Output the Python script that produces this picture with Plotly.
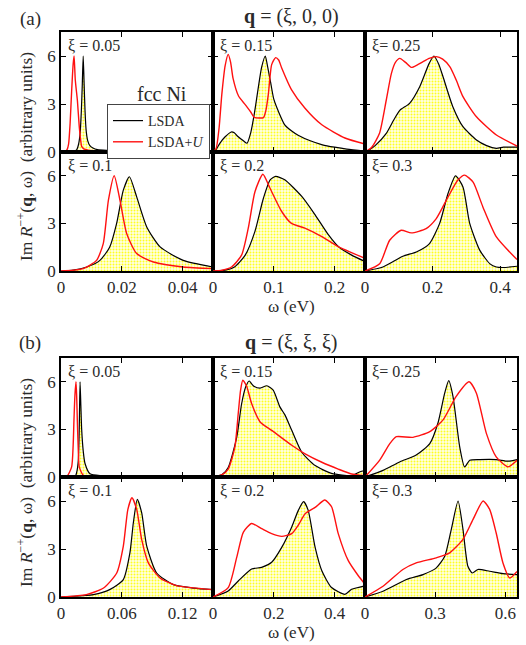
import plotly.graph_objects as go

# ---------------- data: (a) q = (xi,0,0) ----------------
A005_W_LSDA = [0, 0.004, 0.0052, 0.0058, 0.0063, 0.0067, 0.007, 0.0073, 0.0076, 0.0079, 0.0083, 0.0088, 0.0095, 0.0105, 0.012, 0.015, 0.02, 0.03, 0.04, 0.05]
A005_I_LSDA = [0, 0.0, 0.15, 0.5, 1.2, 2.6, 4.2, 6.0, 4.3, 2.6, 1.3, 0.7, 0.4, 0.25, 0.15, 0.1, 0.06, 0.04, 0.03, 0.02]
A005_W_LDAU = [0, 0.0015, 0.002, 0.0025, 0.003, 0.0035, 0.004, 0.0043, 0.0047, 0.0054, 0.006, 0.0065, 0.0068, 0.0075, 0.009, 0.012, 0.02, 0.03, 0.05]
A005_I_LDAU = [0, 0.05, 0.15, 0.5, 1.8, 3.8, 5.5, 6.0, 4.5, 3.2, 1.6, 0.7, 0.35, 0.2, 0.12, 0.08, 0.05, 0.03, 0.02]

A015_W_LSDA = [0, 0.005, 0.0115, 0.02, 0.03, 0.035, 0.04, 0.05, 0.056, 0.062, 0.068, 0.074, 0.08, 0.086, 0.09, 0.095, 0.1, 0.108, 0.118, 0.13, 0.14, 0.16, 0.18, 0.2, 0.22, 0.25]
A015_I_LSDA = [0, 0.15, 0.56, 0.95, 1.25, 1.2, 1.0, 0.7, 0.55, 1.2, 2.4, 3.9, 5.3, 6.0, 5.3, 4.3, 3.3, 2.5, 1.7, 1.3, 1.05, 0.7, 0.45, 0.3, 0.18, 0.05]
A015_W_LDAU = [0, 0.005, 0.01, 0.0145, 0.02, 0.025, 0.029, 0.033, 0.042, 0.053, 0.062, 0.068, 0.083, 0.087, 0.091, 0.0965, 0.103, 0.108, 0.113, 0.129, 0.151, 0.179, 0.217, 0.25]
A015_I_LDAU = [0, 0.2, 1.5, 3.6, 5.4, 6.1, 5.6, 4.6, 3.5, 2.96, 2.5, 2.17, 2.15, 2.6, 3.6, 5.46, 5.9, 5.75, 5.25, 3.9, 2.75, 1.7, 0.875, 0.5]

A025_W_LSDA = [0, 0.01, 0.03, 0.063, 0.085, 0.103, 0.132, 0.162, 0.19, 0.204, 0.218, 0.231, 0.26, 0.29, 0.33, 0.36, 0.389, 0.41, 0.45]
A025_I_LSDA = [0, 0.1, 0.4, 1.17, 2.0, 2.6, 3.04, 4.08, 5.54, 6.0, 5.5, 4.7, 2.83, 1.58, 0.75, 0.4, 0.23, 0.3, 0.3]
A025_W_LDAU = [0, 0.02, 0.043, 0.063, 0.078, 0.09, 0.103, 0.12, 0.137, 0.155, 0.172, 0.19, 0.211, 0.23, 0.251, 0.27, 0.29, 0.33, 0.389, 0.45]
A025_I_LDAU = [0, 0.3, 1.17, 3.25, 4.9, 5.6, 5.85, 5.6, 5.29, 5.45, 5.65, 5.85, 5.96, 5.8, 5.33, 4.5, 3.46, 2.2, 1.06, 0.375]

A010_W_LSDA = [0, 0.004, 0.0085, 0.0128, 0.016, 0.0183, 0.0205, 0.0225, 0.0249, 0.0282, 0.0326, 0.0402, 0.05]
A010_I_LSDA = [0, 0.05, 0.25, 0.67, 1.5, 3.0, 5.1, 5.94, 4.67, 2.78, 1.52, 0.67, 0.25]
A010_W_LDAU = [0, 0.004, 0.0073, 0.0117, 0.0139, 0.0156, 0.0175, 0.0194, 0.0216, 0.0249, 0.0304, 0.0402, 0.05]
A010_I_LDAU = [0, 0.05, 0.15, 0.67, 1.73, 4.46, 6.0, 4.46, 2.36, 1.1, 0.57, 0.25, 0.15]

A020_W_LSDA = [0, 0.02, 0.036, 0.053, 0.069, 0.083, 0.094, 0.103, 0.118, 0.146, 0.168, 0.19, 0.206, 0.228, 0.25]
A020_I_LSDA = [0, 0.05, 0.27, 1.0, 2.5, 4.6, 5.75, 5.96, 5.75, 4.7, 3.54, 2.27, 1.54, 1.0, 0.6]
A020_W_LDAU = [0, 0.015, 0.031, 0.047, 0.058, 0.069, 0.082, 0.094, 0.113, 0.129, 0.151, 0.179, 0.206, 0.25]
A020_I_LDAU = [0, 0.05, 0.27, 1.0, 2.7, 5.0, 6.1, 5.2, 3.75, 3.0, 2.7, 2.17, 1.54, 0.8]

A030_W_LSDA = [0, 0.053, 0.112, 0.152, 0.191, 0.221, 0.246, 0.268, 0.29, 0.31, 0.34, 0.37, 0.389, 0.41, 0.45]
A030_I_LSDA = [0, 0.25, 0.93, 1.2, 1.73, 3.0, 4.9, 6.0, 5.3, 3.0, 1.3, 0.45, 0.25, 0.22, 0.3]
A030_W_LDAU = [0, 0.0435, 0.073, 0.107, 0.137, 0.181, 0.211, 0.246, 0.275, 0.295, 0.32, 0.349, 0.389, 0.45]
A030_I_LDAU = [0, 0.46, 1.94, 2.57, 2.4, 2.67, 3.3, 4.67, 5.73, 6.04, 5.6, 4.04, 2.15, 0.72]

# ---------------- data: (b) q = (xi,xi,xi) ----------------
B005_W_LSDA = [0, 0.0138, 0.0155, 0.0171, 0.018, 0.0188, 0.0196, 0.0204, 0.022, 0.0237, 0.0286, 0.04, 0.06, 0.1, 0.15]
B005_I_LSDA = [0, 0.0, 0.3, 1.06, 3.0, 6.0, 4.5, 3.0, 1.6, 0.85, 0.2, 0.08, 0.04, 0.02, 0.01]
B005_W_LDAU = [0, 0.006, 0.0105, 0.012, 0.0128, 0.0138, 0.0148, 0.0155, 0.0161, 0.017, 0.018, 0.022, 0.03, 0.06, 0.15]
B005_I_LDAU = [0, 0.05, 0.64, 2.0, 3.6, 5.2, 6.0, 5.0, 3.6, 1.8, 0.64, 0.1, 0.05, 0.02, 0.01]

B015_W_LSDA = [0, 0.03, 0.05, 0.078, 0.094, 0.108, 0.119, 0.128, 0.136, 0.155, 0.177, 0.198, 0.22, 0.237, 0.259, 0.292, 0.336, 0.39, 0.456, 0.475, 0.489, 0.5]
B015_I_LSDA = [0, 0.15, 0.6, 2.5, 4.6, 5.7, 6.05, 5.85, 5.7, 5.6, 5.75, 5.48, 4.42, 3.9, 2.94, 1.56, 0.72, 0.23, 0.08, 0.25, 0.36, 0.4]
B015_W_LDAU = [0, 0.03, 0.05, 0.072, 0.083, 0.091, 0.098, 0.111, 0.127, 0.155, 0.193, 0.259, 0.303, 0.358, 0.412, 0.456, 0.5]
B015_I_LDAU = [0, 0.15, 0.5, 1.9, 4.0, 5.5, 6.1, 5.7, 4.63, 3.47, 2.94, 2.0, 1.46, 0.93, 0.5, 0.19, 0.08]

B025_W_LSDA = [0, 0.077, 0.148, 0.219, 0.277, 0.312, 0.341, 0.358, 0.376, 0.405, 0.426, 0.448, 0.49, 0.561, 0.611, 0.65]
B025_I_LSDA = [0, 0.42, 0.95, 1.38, 2.1, 3.4, 5.3, 6.08, 5.1, 1.9, 0.64, 1.06, 1.1, 1.1, 1.0, 1.1]
B025_W_LDAU = [0, 0.063, 0.106, 0.134, 0.205, 0.277, 0.334, 0.39, 0.445, 0.476, 0.519, 0.561, 0.611, 0.65]
B025_I_LDAU = [0, 1.06, 2.1, 2.54, 2.5, 2.86, 3.6, 5.08, 6.0, 5.3, 2.75, 1.27, 0.64, 1.06]

B010_W_LSDA = [0, 0.032, 0.048, 0.0615, 0.068, 0.0714, 0.0753, 0.0796, 0.0846, 0.0944, 0.111, 0.131, 0.15]
B010_I_LSDA = [0, 0.15, 0.46, 1.09, 2.76, 4.64, 6.1, 5.27, 3.18, 1.5, 0.77, 0.56, 0.46]
B010_W_LDAU = [0, 0.025, 0.042, 0.055, 0.0615, 0.066, 0.070, 0.0747, 0.0796, 0.0862, 0.0977, 0.114, 0.15]
B010_I_LDAU = [0, 0.15, 0.56, 1.5, 3.18, 5.48, 6.2, 5.48, 3.6, 2.13, 1.19, 0.71, 0.46]

B020_W_LSDA = [0, 0.05, 0.083, 0.127, 0.16, 0.193, 0.226, 0.259, 0.281, 0.298, 0.313, 0.336, 0.358, 0.39, 0.434, 0.456, 0.5]
B020_I_LSDA = [0, 0.38, 1.0, 1.75, 1.85, 2.17, 3.1, 4.38, 5.43, 5.96, 5.43, 3.1, 1.64, 0.59, 0.17, 0.48, 0.7]
B020_W_LDAU = [0, 0.05, 0.078, 0.1, 0.127, 0.16, 0.193, 0.226, 0.259, 0.281, 0.303, 0.336, 0.368, 0.39, 0.412, 0.445, 0.478, 0.5]
B020_I_LDAU = [0, 0.59, 2.48, 4.06, 4.59, 4.27, 3.96, 3.79, 3.96, 4.5, 5.2, 5.6, 6.06, 5.64, 3.96, 2.27, 1.33, 0.8]

B030_W_LSDA = [0, 0.077, 0.177, 0.248, 0.305, 0.341, 0.369, 0.398, 0.419, 0.44, 0.459, 0.483, 0.533, 0.59, 0.65]
B030_I_LSDA = [0, 0.36, 1.09, 1.4, 1.82, 2.55, 4.23, 6.0, 4.23, 1.92, 1.5, 1.72, 1.61, 1.46, 1.4]
B030_W_LDAU = [0, 0.077, 0.162, 0.219, 0.305, 0.362, 0.419, 0.462, 0.505, 0.533, 0.561, 0.59, 0.619, 0.65]
B030_I_LDAU = [0, 0.67, 1.72, 2.13, 2.45, 2.76, 3.6, 4.85, 6.0, 5.48, 4.0, 2.13, 1.19, 1.6]

XI_LABELS_TOP = ["ξ = 0.05", "ξ = 0.15", "ξ= 0.25"]
XI_LABELS_BOT = ["ξ = 0.1", "ξ = 0.2", "ξ= 0.3"]
A_XRANGES = [0.05, 0.25, 0.45]
B_XRANGES = [0.15, 0.5, 0.65]
A_XTICKS = [[0, 0.02, 0.04], [0, 0.1, 0.2], [0, 0.2, 0.4]]
A_XTICKTEXT = [["0", "0.02", "0.04"], ["0", "0.1", "0.2"], ["0", "0.2", "0.4"]]
B_XTICKS = [[0, 0.06, 0.12], [0, 0.2, 0.4], [0, 0.3, 0.6]]
B_XTICKTEXT = [["0", "0.06", "0.12"], ["0", "0.2", "0.4"], ["0", "0.3", "0.6"]]
Y_TICKS = [0, 3, 6]

panels = {
    "a": [
        [(A005_W_LSDA, A005_I_LSDA, A005_W_LDAU, A005_I_LDAU),
         (A015_W_LSDA, A015_I_LSDA, A015_W_LDAU, A015_I_LDAU),
         (A025_W_LSDA, A025_I_LSDA, A025_W_LDAU, A025_I_LDAU)],
        [(A010_W_LSDA, A010_I_LSDA, A010_W_LDAU, A010_I_LDAU),
         (A020_W_LSDA, A020_I_LSDA, A020_W_LDAU, A020_I_LDAU),
         (A030_W_LSDA, A030_I_LSDA, A030_W_LDAU, A030_I_LDAU)],
    ],
    "b": [
        [(B005_W_LSDA, B005_I_LSDA, B005_W_LDAU, B005_I_LDAU),
         (B015_W_LSDA, B015_I_LSDA, B015_W_LDAU, B015_I_LDAU),
         (B025_W_LSDA, B025_I_LSDA, B025_W_LDAU, B025_I_LDAU)],
        [(B010_W_LSDA, B010_I_LSDA, B010_W_LDAU, B010_I_LDAU),
         (B020_W_LSDA, B020_I_LSDA, B020_W_LDAU, B020_I_LDAU),
         (B030_W_LSDA, B030_I_LSDA, B030_W_LDAU, B030_I_LDAU)],
    ],
}

W, H = 526, 645
FONT = "Liberation Serif"
TXT = "#2a2a2a"


def fx(px):
    return px / W


def fy(py):
    return 1 - py / H


def ann(text, px, py, size, xanchor="center", yanchor="middle", angle=0):
    return dict(text=text, x=fx(px), y=fy(py), xref="paper", yref="paper",
                xanchor=xanchor, yanchor=yanchor, textangle=angle, showarrow=False,
                font=dict(family=FONT, size=size, color=TXT))


COLS = [(61, 213), (213, 365), (365, 517)]
ROWS = {"a": [(32, 152), (152, 271)], "b": [(358, 477), (477, 597)]}
XR = {"a": A_XRANGES, "b": B_XRANGES}
XT = {"a": A_XTICKS, "b": B_XTICKS}
XTT = {"a": A_XTICKTEXT, "b": B_XTICKTEXT}
TICKFONT = dict(family=FONT, size=17, color=TXT)

fig = go.Figure()
layout = {}
annotations = []
k = 0
first = True
for sec in ["a", "b"]:
    for r in range(2):
        for c in range(3):
            k += 1
            xa = "x" if k == 1 else f"x{k}"
            ya = "y" if k == 1 else f"y{k}"
            wl, il, wu, iu = panels[sec][r][c]
            fig.add_trace(go.Scatter(
                x=wl, y=il, xaxis=xa, yaxis=ya, mode="lines",
                line=dict(width=0, shape="spline", smoothing=0.6),
                fill="tozeroy", fillcolor="#ffffd0",
                fillpattern=dict(shape=".", fgcolor="#ffff20", bgcolor="#ffffe6",
                                 size=3, solidity=0.35),
                showlegend=False, hoverinfo="skip"))
            fig.add_trace(go.Scatter(
                x=wl, y=il, xaxis=xa, yaxis=ya, mode="lines",
                line=dict(color="black", width=1.2, shape="spline", smoothing=0.6),
                name="LSDA", showlegend=first, legendrank=1))
            fig.add_trace(go.Scatter(
                x=wu, y=iu, xaxis=xa, yaxis=ya, mode="lines",
                line=dict(color="#ff1010", width=1.4, shape="spline", smoothing=0.6),
                name="LSDA+<i>U</i>", showlegend=first, legendrank=2))
            first = False
            x0, x1 = COLS[c]
            y0, y1 = ROWS[sec][r]
            axname = "xaxis" if k == 1 else f"xaxis{k}"
            ayname = "yaxis" if k == 1 else f"yaxis{k}"
            layout[axname] = dict(
                domain=[fx(x0), fx(x1)], anchor=ya, range=[0, XR[sec][c]],
                tickvals=XT[sec][c], ticktext=XTT[sec][c], automargin=False,
                showticklabels=(r == 1), ticks="inside", ticklen=5, tickwidth=1,
                tickcolor="black", showline=True, linecolor="black", linewidth=1.6,
                mirror="ticks", showgrid=False, zeroline=False, tickfont=TICKFONT)
            layout[ayname] = dict(
                domain=[fy(y1), fy(y0)], anchor=xa, range=[0, 7.5], automargin=False,
                tickvals=Y_TICKS, showticklabels=(c == 0), ticks="inside",
                ticklen=5, tickwidth=1, tickcolor="black", showline=True,
                linecolor="black", linewidth=1.6, mirror="ticks", showgrid=False,
                zeroline=False, tickfont=TICKFONT)
            lab = (XI_LABELS_TOP if r == 0 else XI_LABELS_BOT)[c]
            annotations.append(ann(lab, x0 + 5, y0 + 3, 16, xanchor="left", yanchor="top"))

# section titles, panel letters, axis titles
annotations.append(ann("<b>q</b> = (ξ, 0, 0)", 291, 17, 20))
annotations.append(ann("<b>q</b> = (ξ, ξ, ξ)", 291, 342, 20))
annotations.append(ann("(a)", 30, 19, 19))
annotations.append(ann("(b)", 30, 343, 19))
ytitle = "Im <i>R</i><sup>−+</sup>(<b>q</b>, ω)  (arbitrary units)"
annotations.append(ann(ytitle, 25, 157, 17.5, angle=-90))
annotations.append(ann(ytitle, 25, 483, 17.5, angle=-90))
annotations.append(ann("ω (eV)", 291, 306, 17))
annotations.append(ann("ω (eV)", 291, 632, 17))
annotations.append(ann("fcc Ni", 162, 94, 20))

fig.update_layout(
    template="none",
    width=W, height=H, margin=dict(l=0, r=0, t=0, b=0, pad=0), autosize=False,
    paper_bgcolor="white", plot_bgcolor="rgba(0,0,0,0)",
    showlegend=True,
    legend=dict(x=fx(107), y=fy(104), xanchor="left", yanchor="top",
                bgcolor="white", bordercolor="#444", borderwidth=1,
                font=dict(family=FONT, size=14, color=TXT),
                itemwidth=30, tracegroupgap=0),
    annotations=annotations,
    **layout)

fig.write_html("out.html", config={"displayModeBar": False},
               post_script="document.body.style.margin='0';")
